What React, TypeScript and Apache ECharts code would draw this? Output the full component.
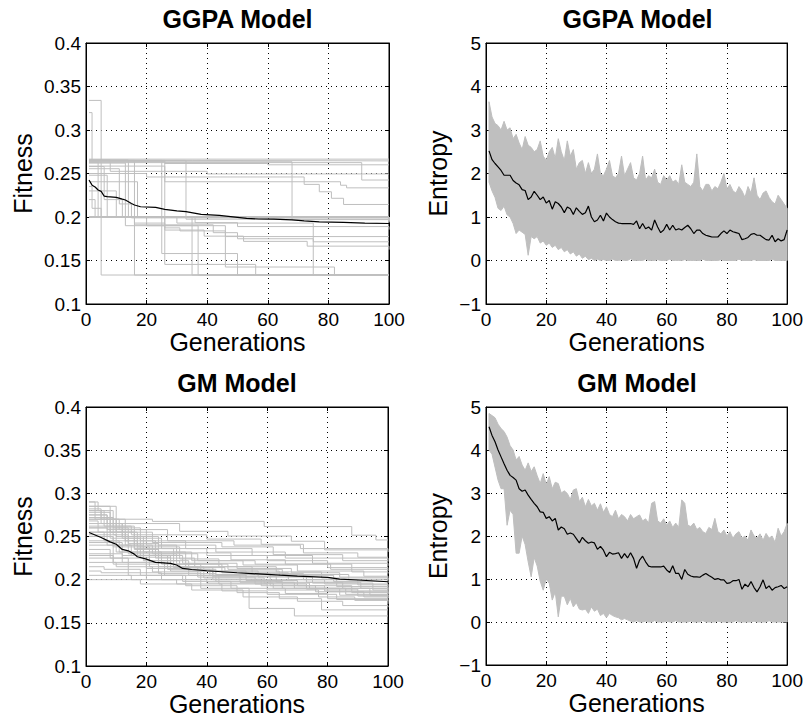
import React, { useEffect, useRef } from "react";
import * as echarts from "echarts";

const FONT = "'Liberation Sans', Arial, Helvetica, sans-serif";
const GRAY = "#bfbfbf";

const titles = ["GGPA Model", "GGPA Model", "GM Model", "GM Model"];
const generations = Array.from({ length: 100 }, (_, i) => i + 1);

// GGPA fitness runs: [generation, fitness] breakpoints (value holds until next breakpoint)
const ggpaFitnessRuns: number[][][] = [
  [[1, 0.2665], [100, 0.2665]],
  [[1, 0.265], [35, 0.2645], [100, 0.2645]],
  [[1, 0.2635], [68, 0.197], [100, 0.197]],
  [[1, 0.2625], [91, 0.2425], [100, 0.2425]],
  [[1, 0.264], [26, 0.2615], [60, 0.26], [100, 0.26]],
  [[1, 0.2655], [8, 0.2525], [40, 0.2495], [100, 0.2495]],
  [[1, 0.25], [20, 0.246], [72, 0.2375], [77, 0.229], [81, 0.2215], [85, 0.2144], [100, 0.2144]],
  [[1, 0.2585], [26, 0.2405], [84, 0.2365], [86, 0.2335], [100, 0.2335]],
  [[1, 0.334], [5, 0.1333], [100, 0.1333]],
  [[1, 0.32], [2, 0.265], [16, 0.1333], [100, 0.1333]],
  [[1, 0.265], [33, 0.1975], [100, 0.1975]],
  [[1, 0.2655], [14, 0.2], [100, 0.1985]],
  [[1, 0.263], [4, 0.2], [100, 0.1995]],
  [[1, 0.258], [6, 0.22], [12, 0.2], [100, 0.196]],
  [[1, 0.2555], [11, 0.215], [15, 0.199], [100, 0.195]],
  [[1, 0.22], [3, 0.2], [100, 0.1995]],
  [[1, 0.2], [100, 0.2]],
  [[1, 0.23], [10, 0.2], [100, 0.1965]],
  [[1, 0.2405], [17, 0.2], [100, 0.1955]],
  [[1, 0.248], [7, 0.2], [100, 0.1942]],
  [[1, 0.235], [2, 0.21], [5, 0.2], [100, 0.1935]],
  [[1, 0.265], [25, 0.2], [36, 0.1935], [50, 0.189], [100, 0.1855]],
  [[1, 0.2], [16, 0.193], [26, 0.1875], [31, 0.184], [46, 0.1775], [100, 0.1775]],
  [[1, 0.2], [16, 0.191], [42, 0.182], [50, 0.175], [75, 0.1715], [100, 0.1715]],
  [[1, 0.2], [26, 0.185], [39, 0.178], [52, 0.172], [73, 0.1665], [100, 0.1625]],
  [[1, 0.265], [26, 0.1455], [56, 0.1333], [100, 0.1333]],
  [[1, 0.2], [35, 0.1333], [100, 0.1333]],
  [[1, 0.262], [13, 0.19], [37, 0.1333], [100, 0.1333]],
  [[1, 0.2], [25, 0.158], [50, 0.1333], [100, 0.1333]],
  [[1, 0.2], [20, 0.19], [46, 0.1425], [82, 0.1333], [100, 0.1333]],
  [[1, 0.2], [30, 0.193], [75, 0.1333], [100, 0.1333]],
];

const ggpaFitnessMean: number[][] = [
  [1, 0.2425], [2, 0.2366], [3, 0.2345], [4, 0.231], [5, 0.2295], [6, 0.224], [7, 0.2235],
  [10, 0.2226], [12, 0.2205], [13, 0.2195], [15, 0.2155], [16, 0.2138], [18, 0.2118],
  [23, 0.2111], [26, 0.2088], [30, 0.207], [33, 0.2061], [38, 0.2031], [44, 0.2019],
  [50, 0.1996], [53, 0.1985], [57, 0.1977], [62, 0.1975], [68, 0.1967], [72, 0.1955],
  [77, 0.1945], [85, 0.1938], [92, 0.193], [100, 0.1925],
];

// GM fitness runs
const gmFitnessRuns: number[][][] = [
  [[1, 0.275], [3, 0.27], [22, 0.2675], [59, 0.2615], [88, 0.2515], [96, 0.246], [100, 0.246]],
  [[1, 0.28], [5, 0.265], [31, 0.256], [47, 0.2505], [68, 0.2445], [79, 0.2345], [100, 0.2345]],
  [[1, 0.285], [8, 0.262], [15, 0.252], [40, 0.247], [58, 0.241], [72, 0.231], [90, 0.226], [100, 0.226]],
  [[1, 0.27], [10, 0.255], [22, 0.243], [45, 0.238], [62, 0.229], [85, 0.222], [100, 0.222]],
  [[1, 0.29], [4, 0.28], [9, 0.26], [18, 0.245], [33, 0.236], [55, 0.228], [75, 0.219], [100, 0.216]],
  [[1, 0.265], [12, 0.248], [25, 0.236], [40, 0.228], [60, 0.222], [80, 0.214], [100, 0.21]],
  [[1, 0.275], [7, 0.258], [20, 0.24], [30, 0.231], [48, 0.223], [66, 0.218], [88, 0.209], [100, 0.207]],
  [[1, 0.26], [14, 0.242], [24, 0.232], [35, 0.222], [52, 0.217], [70, 0.21], [92, 0.204], [100, 0.203]],
  [[1, 0.255], [6, 0.245], [17, 0.228], [32, 0.219], [50, 0.213], [68, 0.208], [84, 0.203], [100, 0.2]],
  [[1, 0.285], [10, 0.25], [19, 0.232], [33, 0.214], [46, 0.21], [64, 0.205], [82, 0.198], [100, 0.196]],
  [[1, 0.27], [13, 0.245], [23, 0.225], [36, 0.215], [55, 0.207], [72, 0.2], [90, 0.194], [100, 0.193]],
  [[1, 0.25], [9, 0.238], [21, 0.222], [31, 0.212], [43, 0.206], [61, 0.2], [79, 0.195], [100, 0.19]],
  [[1, 0.245], [11, 0.232], [25, 0.218], [38, 0.21], [57, 0.203], [75, 0.196], [95, 0.188], [100, 0.187]],
  [[1, 0.28], [6, 0.262], [16, 0.236], [29, 0.214], [42, 0.204], [63, 0.197], [85, 0.19], [100, 0.185]],
  [[1, 0.24], [15, 0.228], [27, 0.212], [41, 0.205], [53, 0.199], [70, 0.193], [88, 0.185], [100, 0.183]],
  [[1, 0.235], [8, 0.225], [20, 0.213], [34, 0.205], [51, 0.197], [69, 0.19], [86, 0.183], [100, 0.181]],
  [[1, 0.22], [10, 0.215], [22, 0.209], [38, 0.2], [58, 0.193], [76, 0.186], [92, 0.18], [100, 0.179]],
  [[1, 0.215], [6, 0.212], [18, 0.205], [32, 0.198], [48, 0.19], [66, 0.184], [80, 0.178], [100, 0.177]],
  [[1, 0.23], [12, 0.22], [26, 0.205], [44, 0.195], [60, 0.188], [77, 0.18], [89, 0.176], [100, 0.175]],
  [[1, 0.205], [15, 0.2], [30, 0.195], [45, 0.187], [60, 0.183], [83, 0.177], [100, 0.172]],
  [[1, 0.25], [9, 0.22], [20, 0.2], [38, 0.19], [54, 0.1667], [69, 0.158], [100, 0.158]],
  [[1, 0.225], [14, 0.205], [33, 0.193], [50, 0.185], [64, 0.178], [78, 0.165], [100, 0.1645]],
  [[1, 0.2], [18, 0.195], [35, 0.188], [52, 0.18], [70, 0.175], [85, 0.17], [100, 0.168]],
  [[1, 0.29], [3, 0.275], [7, 0.265], [12, 0.25], [24, 0.24], [43, 0.232], [66, 0.225], [100, 0.221]],
  [[1, 0.282], [5, 0.27], [11, 0.258], [27, 0.245], [49, 0.24], [71, 0.236], [100, 0.232]],
  [[1, 0.268], [4, 0.255], [13, 0.24], [22, 0.23], [37, 0.222], [56, 0.218], [81, 0.212], [100, 0.212]],
  [[1, 0.262], [8, 0.248], [18, 0.226], [28, 0.218], [47, 0.212], [65, 0.206], [87, 0.2], [100, 0.2]],
  [[1, 0.21], [5, 0.208], [25, 0.2], [40, 0.196], [62, 0.19], [80, 0.186], [100, 0.183]],
  [[1, 0.255], [16, 0.235], [24, 0.215], [39, 0.202], [59, 0.196], [74, 0.19], [94, 0.182], [100, 0.181]],
  [[1, 0.272], [9, 0.252], [14, 0.23], [30, 0.218], [45, 0.208], [67, 0.2], [83, 0.192], [100, 0.188]],
  [[1, 0.26], [7, 0.24], [19, 0.222], [34, 0.21], [53, 0.204], [73, 0.197], [91, 0.19], [100, 0.189]],
  [[1, 0.278], [8, 0.255], [17, 0.238], [31, 0.224], [44, 0.215], [63, 0.209], [78, 0.202], [100, 0.198]],
  [[1, 0.243], [12, 0.228], [28, 0.21], [42, 0.2], [61, 0.193], [79, 0.187], [100, 0.184]],
  [[1, 0.252], [10, 0.232], [21, 0.215], [37, 0.203], [56, 0.195], [73, 0.189], [90, 0.181], [100, 0.179]],
  [[1, 0.228], [9, 0.218], [24, 0.207], [43, 0.198], [65, 0.19], [84, 0.182], [100, 0.178]],
];

const gmFitnessMean: number[][] = [
  [1, 0.2546], [5, 0.2488], [8, 0.2438], [10, 0.241], [12, 0.235], [14, 0.2334], [16, 0.2296],
  [17, 0.2265], [20, 0.2238], [23, 0.22], [28, 0.2188], [30, 0.217], [32, 0.213], [35, 0.2118],
  [40, 0.2103], [50, 0.208], [60, 0.2061], [70, 0.2041], [80, 0.2026], [84, 0.2007], [90, 0.1996],
  [100, 0.1976],
];

// Entropy: envelope of all runs (upper / lower) and mean, per generation 1..100
const ggpaEntropyUpper = [
  3.65, 3.3, 3.15, 3.1, 3.0, 3.2, 3.0, 3.05, 2.8, 2.9,
  2.7, 2.55, 2.85, 2.65, 2.6, 2.5, 2.55, 2.75, 2.4, 2.3,
  2.5, 2.6, 2.35, 2.8, 2.5, 2.3, 2.75, 2.4, 2.55, 2.1,
  2.25, 2.3, 2.0, 2.25, 2.0, 2.1, 2.45, 2.0, 1.95, 2.1,
  2.3, 1.95, 1.9, 2.0, 2.4, 1.95, 2.1, 2.25, 1.9, 1.85,
  2.0, 2.4, 1.85, 1.95, 1.9, 2.1, 1.8, 1.75, 1.95, 1.85,
  1.95, 1.8, 1.85, 1.75, 2.2, 1.8, 1.75, 1.7, 1.8, 2.45,
  1.7, 1.6, 1.75, 1.75, 1.6, 1.7, 1.65, 1.8, 2.0, 1.65,
  1.75, 1.6, 1.55, 1.7, 1.6, 1.45, 1.7, 1.55, 1.9, 1.5,
  1.4, 1.55, 1.6, 1.45, 1.35, 1.3, 1.5, 1.4, 1.3, 1.2,
];
const ggpaEntropyLower = [
  1.8, 1.6, 1.45, 1.2, 1.15, 1.25, 1.05, 1.0, 0.85, 0.62,
  0.7, 0.65, 0.6, 0.12, 0.55, 0.5, 0.55, 0.4, 0.45, 0.35,
  0.4, 0.3, 0.35, 0.25, 0.3, 0.2, 0.25, 0.15, 0.2, 0.1,
  0.15, 0.05, 0.1, 0.02, 0.05, 0, 0.03, 0, 0.02, 0,
  0, 0.03, 0, 0, 0.02, 0, 0, 0.04, 0, 0,
  0, 0, 0.03, 0, 0, 0, 0.02, 0, 0, 0,
  0.03, 0, 0, 0, 0, 0.02, 0, 0, 0, 0,
  0, 0.03, 0, 0, 0, 0, 0, 0.02, 0, 0,
  0, 0, 0, 0.03, 0, 0, 0, 0, 0.02, 0,
  0, 0, 0, 0, 0.03, 0, 0, 0, 0, 0,
];
const ggpaEntropyMean = [
  2.52, 2.32, 2.23, 2.15, 2.07, 1.96, 1.96, 1.96, 1.84, 1.78,
  1.74, 1.63, 1.61, 1.4, 1.46, 1.59, 1.5, 1.4, 1.46, 1.32,
  1.38, 1.18, 1.35, 1.31, 1.23, 1.1, 1.23, 1.19, 1.06, 1.21,
  1.13, 1.06, 1.1, 1.25, 1.0, 0.89, 0.93, 1.04, 0.91, 1.09,
  1.0, 0.94, 0.89, 0.86, 0.85, 0.85, 0.85, 0.85, 0.83, 0.91,
  0.73, 0.85, 0.73, 0.77, 0.7, 0.93, 0.77, 0.64, 0.7, 0.83,
  0.7, 0.81, 0.7, 0.73, 0.7, 0.76, 0.81, 0.73, 0.62, 0.7,
  0.7, 0.62, 0.58, 0.56, 0.54, 0.54, 0.54, 0.62, 0.68, 0.62,
  0.7, 0.66, 0.64, 0.62, 0.48, 0.5, 0.53, 0.6, 0.62, 0.58,
  0.58, 0.53, 0.48, 0.47, 0.58, 0.43, 0.5, 0.45, 0.48, 0.7,
];

const gmEntropyUpper = [
  4.85, 4.8, 4.75, 4.6, 4.5, 4.43, 4.3, 4.1, 4.0, 3.77,
  3.85, 3.65, 3.53, 3.7, 3.5, 3.61, 3.4, 3.22, 3.45, 3.2,
  3.38, 3.1, 3.25, 3.22, 3.0, 3.05, 2.99, 2.85, 3.07, 3.1,
  2.8, 2.9, 2.68, 2.85, 2.7, 2.76, 2.6, 2.75, 2.55, 2.68,
  2.5, 2.45, 2.6, 2.4, 2.5, 2.45, 2.35, 2.5, 2.4, 2.45,
  2.49, 2.35, 2.4, 2.3, 2.76, 2.8, 2.35, 2.3, 2.4, 2.25,
  2.35, 2.2, 2.3, 2.2, 2.84, 2.76, 2.25, 2.22, 2.3, 2.15,
  2.2, 2.1, 2.06, 2.2, 2.15, 2.41, 2.1, 2.05, 2.14, 2.0,
  2.1, 1.95, 2.05, 2.1, 1.95, 2.0, 1.9, 2.14, 2.0, 1.95,
  2.05, 1.9, 2.06, 1.95, 2.0, 1.85, 2.18, 2.0, 2.1, 2.29,
];
const gmEntropyLower = [
  4.0, 3.9, 3.6, 3.3, 3.1, 3.1, 2.25, 2.6, 2.5, 1.6,
  1.6, 2.0, 1.8, 1.4, 1.05, 1.5, 1.3, 0.95, 0.74, 1.0,
  0.9, 0.51, 0.7, 0.12, 0.6, 0.6, 0.4, 0.55, 0.35, 0.45,
  0.3, 0.28, 0.3, 0.2, 0.35, 0.25, 0.3, 0.15, 0.2, 0.1,
  0.2, 0.15, 0.12, 0.1, 0.05, 0.08, 0.05, 0.02, 0, 0.03,
  0, 0, 0.02, 0, 0, 0.03, 0, 0, 0, 0.02,
  0, 0, 0.03, 0, 0, 0, 0, 0.02, 0, 0,
  0, 0.03, 0, 0, 0, 0, 0.02, 0, 0, 0,
  0, 0, 0.03, 0, 0, 0, 0, 0, 0.02, 0,
  0, 0, 0, 0.03, 0, 0, 0, 0, 0, 0,
];
const gmEntropyMean = [
  4.54, 4.34, 4.19, 4.0, 3.84, 3.68, 3.53, 3.41, 3.36, 3.3,
  3.1, 3.04, 3.07, 2.95, 2.85, 2.76, 2.68, 2.56, 2.55, 2.41,
  2.45, 2.35, 2.41, 2.14, 2.21, 2.17, 2.04, 2.07, 2.04, 1.94,
  1.84, 1.97, 1.89, 1.83, 1.86, 1.84, 1.69, 1.76, 1.67, 1.52,
  1.62, 1.58, 1.59, 1.61, 1.48, 1.59, 1.49, 1.61, 1.48, 1.25,
  1.44, 1.53, 1.4, 1.3, 1.28, 1.28, 1.28, 1.28, 1.3, 1.21,
  1.15, 1.31, 1.13, 1.13, 0.99, 1.22, 1.11, 1.07, 1.05, 1.05,
  1.04, 1.09, 1.13, 1.08, 1.04, 0.99, 1.01, 0.98, 0.98, 0.9,
  0.91, 0.96, 0.96, 0.99, 0.76, 0.88, 0.82, 0.94, 0.8, 0.7,
  0.82, 0.98, 0.78, 0.84, 0.74, 0.8, 0.82, 0.85, 0.78, 0.82,
];

const grids = [
  { left: 86, top: 43, width: 303, height: 261 },
  { left: 486, top: 43, width: 302, height: 261 },
  { left: 86, top: 407, width: 302, height: 259 },
  { left: 486, top: 407, width: 302, height: 258 },
];

function fitFmt(v: number) {
  return String(+v.toFixed(2));
}
function entFmt(v: number) {
  return v < 0 ? "\u2212" + Math.abs(v) : String(v);
}

function axesFor(g: number, isFitness: boolean) {
  const tickStyle = { show: true, inside: true, length: 4, lineStyle: { color: "#000", width: 1 } };
  const lineStyle = { show: true, onZero: false, lineStyle: { color: "#000", width: 1 } };
  const grid = { show: true, lineStyle: { type: [1, 4], color: "#000", width: 1 } };
  const x = [
    {
      gridIndex: g, type: "value", min: 0, max: 100, interval: 20, position: "bottom",
      name: "Generations", nameLocation: "middle", nameGap: 22,
      nameTextStyle: { fontSize: 25, color: "#000", fontFamily: FONT },
      axisLine: lineStyle, axisTick: tickStyle,
      axisLabel: { margin: 6, fontSize: 19, color: "#000", fontFamily: FONT },
      splitLine: grid,
    },
    {
      gridIndex: g, type: "value", min: 0, max: 100, interval: 20, position: "top",
      axisLine: lineStyle, axisTick: tickStyle, axisLabel: { show: false }, splitLine: { show: false },
    },
  ];
  const yBase = isFitness
    ? { min: 0.1, max: 0.4, interval: 0.05 }
    : { min: -1, max: 5, interval: 1 };
  const y = [
    {
      gridIndex: g, type: "value", ...yBase, position: "left",
      name: isFitness ? "Fitness" : "Entropy", nameLocation: "middle",
      nameGap: isFitness ? 51 : 36, nameRotate: 90,
      nameTextStyle: { fontSize: 25, color: "#000", fontFamily: FONT },
      axisLine: lineStyle, axisTick: tickStyle,
      axisLabel: { margin: 5, fontSize: 19, color: "#000", fontFamily: FONT, formatter: isFitness ? fitFmt : entFmt },
      splitLine: grid,
    },
    {
      gridIndex: g, type: "value", ...yBase, position: "right",
      axisLine: lineStyle, axisTick: tickStyle, axisLabel: { show: false }, splitLine: { show: false },
    },
  ];
  return { x, y };
}

function stepSeries(runs: number[][][], g: number) {
  return runs.map((pts) => ({
    type: "line", xAxisIndex: g * 2, yAxisIndex: g * 2, step: "end", data: pts,
    symbol: "none", silent: true, lineStyle: { color: GRAY, width: 1 }, z: 2,
  }));
}

function meanSeries(pts: number[][], g: number) {
  return {
    type: "line", xAxisIndex: g * 2, yAxisIndex: g * 2, data: pts,
    symbol: "none", silent: true, lineStyle: { color: "#000", width: 1.2 }, z: 5,
  };
}

// Gray band of all runs: polygon through upper envelope and back along lower envelope
function bandSeries(upper: number[], lower: number[], g: number) {
  return {
    type: "custom", xAxisIndex: g * 2, yAxisIndex: g * 2, silent: true, z: 3, clip: true,
    data: [[generations[0], upper[0]]],
    renderItem: (_params: any, api: any) => {
      const top = upper.map((v, i) => api.coord([generations[i], v]));
      const bottom = lower.map((v, i) => api.coord([generations[i], v])).reverse();
      return {
        type: "polygon",
        shape: { points: [...top, ...bottom] },
        style: { fill: GRAY, stroke: GRAY, lineWidth: 1, lineJoin: "miter" },
      };
    },
  };
}

export default function App() {
  const ref = useRef<HTMLDivElement>(null);
  useEffect(() => {
    if (!ref.current) return;
    const chart = echarts.init(ref.current, undefined, { renderer: "svg" });
    const xAxes: any[] = [];
    const yAxes: any[] = [];
    [true, false, true, false].forEach((isFit, g) => {
      const a = axesFor(g, isFit);
      xAxes.push(...a.x);
      yAxes.push(...a.y);
    });
    const titlePos = [
      [237.5, 18.5], [637.5, 18.5], [237, 382.5], [637, 382.5],
    ];
    const option: any = {
      animation: false,
      backgroundColor: "#fff",
      grid: grids.map((gr) => ({ ...gr, show: true, borderColor: "#000", borderWidth: 1, backgroundColor: "transparent" })),
      xAxis: xAxes,
      yAxis: yAxes,
      graphic: titles.map((t, i) => ({
        type: "text", x: titlePos[i][0], y: titlePos[i][1], silent: true,
        style: {
          text: t, fill: "#000", fontSize: 25, fontWeight: "bold", fontFamily: FONT,
          font: `bold 25px ${FONT}`,
          align: "center", verticalAlign: "middle", textAlign: "center", textVerticalAlign: "middle",
        },
      })),
      series: [
        ...stepSeries(ggpaFitnessRuns, 0),
        meanSeries(ggpaFitnessMean, 0),
        bandSeries(ggpaEntropyUpper, ggpaEntropyLower, 1),
        meanSeries(ggpaEntropyMean.map((v, i) => [generations[i], v]), 1),
        ...stepSeries(gmFitnessRuns, 2),
        meanSeries(gmFitnessMean, 2),
        bandSeries(gmEntropyUpper, gmEntropyLower, 3),
        meanSeries(gmEntropyMean.map((v, i) => [generations[i], v]), 3),
      ],
    };
    chart.setOption(option);
    return () => chart.dispose();
  }, []);
  return (
    <div
      ref={ref}
      style={{ position: "absolute", left: 0, top: 0, width: 806, height: 719, background: "#fff" }}
    />
  );
}
